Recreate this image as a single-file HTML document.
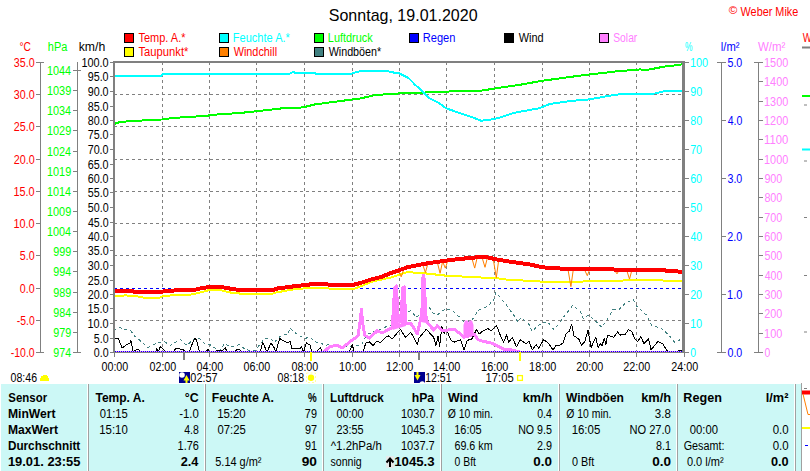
<!DOCTYPE html>
<html><head><meta charset="utf-8"><style>
html,body{margin:0;padding:0;background:#fff;width:810px;height:471px;overflow:hidden}
svg{display:block;font-family:"Liberation Sans", sans-serif}
</style></head><body>
<svg width="810" height="471" viewBox="0 0 810 471">
<text x="328.78" y="21" fill="#000" font-size="17" textLength="148.80" lengthAdjust="spacingAndGlyphs">Sonntag, 19.01.2020</text>
<text x="728.83" y="14" fill="#f00" font-size="10" textLength="8.57" lengthAdjust="spacingAndGlyphs">©</text>
<text x="740.55" y="16" fill="#f00" font-size="12" textLength="57.76" lengthAdjust="spacingAndGlyphs">Weber Mike</text>
<rect x="124.5" y="33.5" width="9" height="9" fill="#f00" stroke="#000" stroke-width="1"/>
<text x="138.48" y="42" fill="#f00" font-size="12" textLength="47.08" lengthAdjust="spacingAndGlyphs">Temp. A.*</text>
<rect x="219.5" y="33.5" width="9" height="9" fill="#0ff" stroke="#000" stroke-width="1"/>
<text x="232.82" y="42" fill="#0ff" font-size="12" textLength="57.05" lengthAdjust="spacingAndGlyphs">Feuchte A.*</text>
<rect x="314.5" y="33.5" width="9" height="9" fill="#0f0" stroke="#000" stroke-width="1"/>
<text x="327.83" y="42" fill="#0f0" font-size="12" textLength="44.85" lengthAdjust="spacingAndGlyphs">Luftdruck</text>
<rect x="409.5" y="33.5" width="9" height="9" fill="#00f" stroke="#000" stroke-width="1"/>
<text x="422.81" y="42" fill="#00f" font-size="12" textLength="32.63" lengthAdjust="spacingAndGlyphs">Regen</text>
<rect x="504.5" y="33.5" width="9" height="9" fill="#000" stroke="#000" stroke-width="1"/>
<text x="518.65" y="42" fill="#000" font-size="12" textLength="24.90" lengthAdjust="spacingAndGlyphs">Wind</text>
<rect x="599.5" y="33.5" width="9" height="9" fill="#ff80ff" stroke="#000" stroke-width="1"/>
<text x="613.24" y="42" fill="#ff80ff" font-size="12" textLength="24.07" lengthAdjust="spacingAndGlyphs">Solar</text>
<rect x="124.5" y="47.5" width="9" height="9" fill="#ff0" stroke="#000" stroke-width="1"/>
<text x="138.48" y="56" fill="#f00" font-size="12" textLength="49.97" lengthAdjust="spacingAndGlyphs">Taupunkt*</text>
<rect x="219.5" y="47.5" width="9" height="9" fill="#ff8000" stroke="#000" stroke-width="1"/>
<text x="233.65" y="56" fill="#f00" font-size="12" textLength="43.47" lengthAdjust="spacingAndGlyphs">Windchill</text>
<rect x="314.5" y="47.5" width="9" height="9" fill="#408080" stroke="#000" stroke-width="1"/>
<text x="328.65" y="56" fill="#000" font-size="12" textLength="52.58" lengthAdjust="spacingAndGlyphs">Windböen*</text>
<text x="19.39" y="51" fill="#f00" font-size="12" textLength="11.39" lengthAdjust="spacingAndGlyphs">°C</text>
<text x="47.83" y="51" fill="#0f0" font-size="12" textLength="19.56" lengthAdjust="spacingAndGlyphs">hPa</text>
<text x="78.70" y="51" fill="#000" font-size="12" textLength="26.52" lengthAdjust="spacingAndGlyphs">km/h</text>
<text x="684.91" y="51" fill="#0ff" font-size="12" textLength="7.48" lengthAdjust="spacingAndGlyphs">%</text>
<text x="720.77" y="51" fill="#00f" font-size="12" textLength="18.71" lengthAdjust="spacingAndGlyphs">l/m²</text>
<text x="758.04" y="51" fill="#ff80ff" font-size="12" textLength="27.36" lengthAdjust="spacingAndGlyphs">W/m²</text>
<text x="802.75" y="42" fill="#f00" font-size="12" textLength="9.08" lengthAdjust="spacingAndGlyphs">W</text>
<line x1="162.5" y1="62" x2="162.5" y2="352" stroke="#808080" stroke-width="1" stroke-dasharray="3 3"/>
<line x1="209.5" y1="62" x2="209.5" y2="352" stroke="#808080" stroke-width="1" stroke-dasharray="3 3"/>
<line x1="256.5" y1="62" x2="256.5" y2="352" stroke="#808080" stroke-width="1" stroke-dasharray="3 3"/>
<line x1="304.5" y1="62" x2="304.5" y2="352" stroke="#808080" stroke-width="1" stroke-dasharray="3 3"/>
<line x1="352.5" y1="62" x2="352.5" y2="352" stroke="#808080" stroke-width="1" stroke-dasharray="3 3"/>
<line x1="399.5" y1="62" x2="399.5" y2="352" stroke="#808080" stroke-width="1" stroke-dasharray="3 3"/>
<line x1="446.5" y1="62" x2="446.5" y2="352" stroke="#808080" stroke-width="1" stroke-dasharray="3 3"/>
<line x1="494.5" y1="62" x2="494.5" y2="352" stroke="#808080" stroke-width="1" stroke-dasharray="3 3"/>
<line x1="542.5" y1="62" x2="542.5" y2="352" stroke="#808080" stroke-width="1" stroke-dasharray="3 3"/>
<line x1="589.5" y1="62" x2="589.5" y2="352" stroke="#808080" stroke-width="1" stroke-dasharray="3 3"/>
<line x1="636.5" y1="62" x2="636.5" y2="352" stroke="#808080" stroke-width="1" stroke-dasharray="3 3"/>
<line x1="114" y1="94.5" x2="683" y2="94.5" stroke="#808080" stroke-width="1" stroke-dasharray="3 3"/>
<line x1="114" y1="126.5" x2="683" y2="126.5" stroke="#808080" stroke-width="1" stroke-dasharray="3 3"/>
<line x1="114" y1="159.5" x2="683" y2="159.5" stroke="#808080" stroke-width="1" stroke-dasharray="3 3"/>
<line x1="114" y1="191.5" x2="683" y2="191.5" stroke="#808080" stroke-width="1" stroke-dasharray="3 3"/>
<line x1="114" y1="223.5" x2="683" y2="223.5" stroke="#808080" stroke-width="1" stroke-dasharray="3 3"/>
<line x1="114" y1="255.5" x2="683" y2="255.5" stroke="#808080" stroke-width="1" stroke-dasharray="3 3"/>
<line x1="114" y1="320.5" x2="683" y2="320.5" stroke="#808080" stroke-width="1" stroke-dasharray="3 3"/>
<line x1="114" y1="288.5" x2="683" y2="288.5" stroke="#00f" stroke-width="1" stroke-dasharray="3 3"/>
<line x1="40.5" y1="62" x2="40.5" y2="353" stroke="#808080" stroke-width="1"/>
<line x1="36" y1="62.5" x2="44" y2="62.5" stroke="#808080" stroke-width="1"/>
<text x="13.87" y="67.0" fill="#f00" font-size="12" textLength="20.82" lengthAdjust="spacingAndGlyphs">35.0</text>
<line x1="36" y1="94.5" x2="41" y2="94.5" stroke="#808080" stroke-width="1"/>
<text x="13.87" y="99.0" fill="#f00" font-size="12" textLength="20.82" lengthAdjust="spacingAndGlyphs">30.0</text>
<line x1="36" y1="126.5" x2="41" y2="126.5" stroke="#808080" stroke-width="1"/>
<text x="13.76" y="131.0" fill="#f00" font-size="12" textLength="20.93" lengthAdjust="spacingAndGlyphs">25.0</text>
<line x1="36" y1="159.5" x2="41" y2="159.5" stroke="#808080" stroke-width="1"/>
<text x="13.76" y="164.0" fill="#f00" font-size="12" textLength="20.93" lengthAdjust="spacingAndGlyphs">20.0</text>
<line x1="36" y1="191.5" x2="41" y2="191.5" stroke="#808080" stroke-width="1"/>
<text x="13.48" y="196.0" fill="#f00" font-size="12" textLength="21.21" lengthAdjust="spacingAndGlyphs">15.0</text>
<line x1="36" y1="223.5" x2="41" y2="223.5" stroke="#808080" stroke-width="1"/>
<text x="13.48" y="228.0" fill="#f00" font-size="12" textLength="21.21" lengthAdjust="spacingAndGlyphs">10.0</text>
<line x1="36" y1="255.5" x2="41" y2="255.5" stroke="#808080" stroke-width="1"/>
<text x="19.87" y="260.0" fill="#f00" font-size="12" textLength="14.80" lengthAdjust="spacingAndGlyphs">5.0</text>
<line x1="36" y1="288.5" x2="41" y2="288.5" stroke="#808080" stroke-width="1"/>
<text x="19.87" y="293.0" fill="#f00" font-size="12" textLength="14.80" lengthAdjust="spacingAndGlyphs">0.0</text>
<line x1="36" y1="320.5" x2="41" y2="320.5" stroke="#808080" stroke-width="1"/>
<text x="16.83" y="325.0" fill="#f00" font-size="12" textLength="17.86" lengthAdjust="spacingAndGlyphs">-5.0</text>
<line x1="36" y1="352.5" x2="44" y2="352.5" stroke="#808080" stroke-width="1"/>
<text x="10.83" y="357.0" fill="#f00" font-size="12" textLength="23.83" lengthAdjust="spacingAndGlyphs">-10.0</text>
<line x1="77.5" y1="62" x2="77.5" y2="353" stroke="#808080" stroke-width="1"/>
<line x1="73" y1="352.5" x2="81" y2="352.5" stroke="#808080" stroke-width="1"/>
<text x="53.32" y="357.0" fill="#0f0" font-size="12" textLength="17.84" lengthAdjust="spacingAndGlyphs">974</text>
<line x1="73" y1="332.5" x2="78" y2="332.5" stroke="#808080" stroke-width="1"/>
<text x="53.31" y="337.0" fill="#0f0" font-size="12" textLength="18.01" lengthAdjust="spacingAndGlyphs">979</text>
<line x1="73" y1="312.5" x2="78" y2="312.5" stroke="#808080" stroke-width="1"/>
<text x="53.32" y="317.0" fill="#0f0" font-size="12" textLength="17.84" lengthAdjust="spacingAndGlyphs">984</text>
<line x1="73" y1="292.5" x2="78" y2="292.5" stroke="#808080" stroke-width="1"/>
<text x="53.31" y="297.0" fill="#0f0" font-size="12" textLength="18.01" lengthAdjust="spacingAndGlyphs">989</text>
<line x1="73" y1="271.5" x2="78" y2="271.5" stroke="#808080" stroke-width="1"/>
<text x="53.32" y="276.0" fill="#0f0" font-size="12" textLength="17.84" lengthAdjust="spacingAndGlyphs">994</text>
<line x1="73" y1="251.5" x2="78" y2="251.5" stroke="#808080" stroke-width="1"/>
<text x="53.31" y="256.0" fill="#0f0" font-size="12" textLength="18.01" lengthAdjust="spacingAndGlyphs">999</text>
<line x1="73" y1="231.5" x2="78" y2="231.5" stroke="#808080" stroke-width="1"/>
<text x="46.99" y="236.0" fill="#0f0" font-size="12" textLength="24.14" lengthAdjust="spacingAndGlyphs">1004</text>
<line x1="73" y1="211.5" x2="78" y2="211.5" stroke="#808080" stroke-width="1"/>
<text x="46.98" y="216.0" fill="#0f0" font-size="12" textLength="24.31" lengthAdjust="spacingAndGlyphs">1009</text>
<line x1="73" y1="191.5" x2="78" y2="191.5" stroke="#808080" stroke-width="1"/>
<text x="46.99" y="196.0" fill="#0f0" font-size="12" textLength="24.14" lengthAdjust="spacingAndGlyphs">1014</text>
<line x1="73" y1="171.5" x2="78" y2="171.5" stroke="#808080" stroke-width="1"/>
<text x="46.98" y="176.0" fill="#0f0" font-size="12" textLength="24.31" lengthAdjust="spacingAndGlyphs">1019</text>
<line x1="73" y1="151.5" x2="78" y2="151.5" stroke="#808080" stroke-width="1"/>
<text x="46.99" y="156.0" fill="#0f0" font-size="12" textLength="24.14" lengthAdjust="spacingAndGlyphs">1024</text>
<line x1="73" y1="130.5" x2="78" y2="130.5" stroke="#808080" stroke-width="1"/>
<text x="46.98" y="135.0" fill="#0f0" font-size="12" textLength="24.31" lengthAdjust="spacingAndGlyphs">1029</text>
<line x1="73" y1="110.5" x2="78" y2="110.5" stroke="#808080" stroke-width="1"/>
<text x="46.99" y="115.0" fill="#0f0" font-size="12" textLength="24.14" lengthAdjust="spacingAndGlyphs">1034</text>
<line x1="73" y1="90.5" x2="78" y2="90.5" stroke="#808080" stroke-width="1"/>
<text x="46.98" y="95.0" fill="#0f0" font-size="12" textLength="24.31" lengthAdjust="spacingAndGlyphs">1039</text>
<line x1="73" y1="70.5" x2="81" y2="70.5" stroke="#808080" stroke-width="1"/>
<text x="46.99" y="75.0" fill="#0f0" font-size="12" textLength="24.14" lengthAdjust="spacingAndGlyphs">1044</text>
<line x1="110" y1="352.5" x2="113" y2="352.5" stroke="#808080" stroke-width="1"/>
<text x="93.77" y="357.0" fill="#000" font-size="12" textLength="14.80" lengthAdjust="spacingAndGlyphs">0.0</text>
<line x1="110" y1="338.5" x2="113" y2="338.5" stroke="#808080" stroke-width="1"/>
<text x="93.77" y="343.0" fill="#000" font-size="12" textLength="14.80" lengthAdjust="spacingAndGlyphs">5.0</text>
<line x1="110" y1="323.5" x2="113" y2="323.5" stroke="#808080" stroke-width="1"/>
<text x="87.38" y="328.0" fill="#000" font-size="12" textLength="21.21" lengthAdjust="spacingAndGlyphs">10.0</text>
<line x1="110" y1="308.5" x2="113" y2="308.5" stroke="#808080" stroke-width="1"/>
<text x="87.38" y="313.0" fill="#000" font-size="12" textLength="21.21" lengthAdjust="spacingAndGlyphs">15.0</text>
<line x1="110" y1="294.5" x2="113" y2="294.5" stroke="#808080" stroke-width="1"/>
<text x="87.66" y="299.0" fill="#000" font-size="12" textLength="20.93" lengthAdjust="spacingAndGlyphs">20.0</text>
<line x1="110" y1="280.5" x2="113" y2="280.5" stroke="#808080" stroke-width="1"/>
<text x="87.66" y="285.0" fill="#000" font-size="12" textLength="20.93" lengthAdjust="spacingAndGlyphs">25.0</text>
<line x1="110" y1="265.5" x2="113" y2="265.5" stroke="#808080" stroke-width="1"/>
<text x="87.77" y="270.0" fill="#000" font-size="12" textLength="20.82" lengthAdjust="spacingAndGlyphs">30.0</text>
<line x1="110" y1="250.5" x2="113" y2="250.5" stroke="#808080" stroke-width="1"/>
<text x="87.77" y="255.0" fill="#000" font-size="12" textLength="20.82" lengthAdjust="spacingAndGlyphs">35.0</text>
<line x1="110" y1="236.5" x2="113" y2="236.5" stroke="#808080" stroke-width="1"/>
<text x="87.99" y="241.0" fill="#000" font-size="12" textLength="20.60" lengthAdjust="spacingAndGlyphs">40.0</text>
<line x1="110" y1="222.5" x2="113" y2="222.5" stroke="#808080" stroke-width="1"/>
<text x="87.99" y="227.0" fill="#000" font-size="12" textLength="20.60" lengthAdjust="spacingAndGlyphs">45.0</text>
<line x1="110" y1="207.5" x2="113" y2="207.5" stroke="#808080" stroke-width="1"/>
<text x="87.77" y="212.0" fill="#000" font-size="12" textLength="20.82" lengthAdjust="spacingAndGlyphs">50.0</text>
<line x1="110" y1="192.5" x2="113" y2="192.5" stroke="#808080" stroke-width="1"/>
<text x="87.77" y="197.0" fill="#000" font-size="12" textLength="20.82" lengthAdjust="spacingAndGlyphs">55.0</text>
<line x1="110" y1="178.5" x2="113" y2="178.5" stroke="#808080" stroke-width="1"/>
<text x="87.66" y="183.0" fill="#000" font-size="12" textLength="20.93" lengthAdjust="spacingAndGlyphs">60.0</text>
<line x1="110" y1="164.5" x2="113" y2="164.5" stroke="#808080" stroke-width="1"/>
<text x="87.66" y="169.0" fill="#000" font-size="12" textLength="20.93" lengthAdjust="spacingAndGlyphs">65.0</text>
<line x1="110" y1="149.5" x2="113" y2="149.5" stroke="#808080" stroke-width="1"/>
<text x="87.66" y="154.0" fill="#000" font-size="12" textLength="20.93" lengthAdjust="spacingAndGlyphs">70.0</text>
<line x1="110" y1="134.5" x2="113" y2="134.5" stroke="#808080" stroke-width="1"/>
<text x="87.66" y="139.0" fill="#000" font-size="12" textLength="20.93" lengthAdjust="spacingAndGlyphs">75.0</text>
<line x1="110" y1="120.5" x2="113" y2="120.5" stroke="#808080" stroke-width="1"/>
<text x="87.72" y="125.0" fill="#000" font-size="12" textLength="20.87" lengthAdjust="spacingAndGlyphs">80.0</text>
<line x1="110" y1="106.5" x2="113" y2="106.5" stroke="#808080" stroke-width="1"/>
<text x="87.72" y="111.0" fill="#000" font-size="12" textLength="20.87" lengthAdjust="spacingAndGlyphs">85.0</text>
<line x1="110" y1="91.5" x2="113" y2="91.5" stroke="#808080" stroke-width="1"/>
<text x="87.72" y="96.0" fill="#000" font-size="12" textLength="20.87" lengthAdjust="spacingAndGlyphs">90.0</text>
<line x1="110" y1="76.5" x2="113" y2="76.5" stroke="#808080" stroke-width="1"/>
<text x="87.72" y="81.0" fill="#000" font-size="12" textLength="20.87" lengthAdjust="spacingAndGlyphs">95.0</text>
<line x1="110" y1="62.5" x2="113" y2="62.5" stroke="#808080" stroke-width="1"/>
<text x="81.38" y="67.0" fill="#000" font-size="12" textLength="27.22" lengthAdjust="spacingAndGlyphs">100.0</text>
<line x1="685" y1="352.5" x2="689" y2="352.5" stroke="#808080" stroke-width="1"/>
<text x="690.28" y="357.0" fill="#0ff" font-size="12" textLength="5.79" lengthAdjust="spacingAndGlyphs">0</text>
<line x1="685" y1="323.5" x2="689" y2="323.5" stroke="#808080" stroke-width="1"/>
<text x="689.88" y="328.0" fill="#0ff" font-size="12" textLength="12.24" lengthAdjust="spacingAndGlyphs">10</text>
<line x1="685" y1="294.5" x2="689" y2="294.5" stroke="#808080" stroke-width="1"/>
<text x="690.16" y="299.0" fill="#0ff" font-size="12" textLength="11.94" lengthAdjust="spacingAndGlyphs">20</text>
<line x1="685" y1="265.5" x2="689" y2="265.5" stroke="#808080" stroke-width="1"/>
<text x="690.27" y="270.0" fill="#0ff" font-size="12" textLength="11.82" lengthAdjust="spacingAndGlyphs">30</text>
<line x1="685" y1="236.5" x2="689" y2="236.5" stroke="#808080" stroke-width="1"/>
<text x="690.49" y="241.0" fill="#0ff" font-size="12" textLength="11.60" lengthAdjust="spacingAndGlyphs">40</text>
<line x1="685" y1="207.5" x2="689" y2="207.5" stroke="#808080" stroke-width="1"/>
<text x="690.27" y="212.0" fill="#0ff" font-size="12" textLength="11.82" lengthAdjust="spacingAndGlyphs">50</text>
<line x1="685" y1="178.5" x2="689" y2="178.5" stroke="#808080" stroke-width="1"/>
<text x="690.16" y="183.0" fill="#0ff" font-size="12" textLength="11.94" lengthAdjust="spacingAndGlyphs">60</text>
<line x1="685" y1="149.5" x2="689" y2="149.5" stroke="#808080" stroke-width="1"/>
<text x="690.16" y="154.0" fill="#0ff" font-size="12" textLength="11.94" lengthAdjust="spacingAndGlyphs">70</text>
<line x1="685" y1="120.5" x2="689" y2="120.5" stroke="#808080" stroke-width="1"/>
<text x="690.22" y="125.0" fill="#0ff" font-size="12" textLength="11.88" lengthAdjust="spacingAndGlyphs">80</text>
<line x1="685" y1="91.5" x2="689" y2="91.5" stroke="#808080" stroke-width="1"/>
<text x="690.22" y="96.0" fill="#0ff" font-size="12" textLength="11.88" lengthAdjust="spacingAndGlyphs">90</text>
<line x1="685" y1="62.5" x2="689" y2="62.5" stroke="#808080" stroke-width="1"/>
<text x="689.88" y="67.0" fill="#0ff" font-size="12" textLength="18.24" lengthAdjust="spacingAndGlyphs">100</text>
<line x1="721.5" y1="62" x2="721.5" y2="353" stroke="#808080" stroke-width="1"/>
<line x1="717" y1="352.5" x2="726" y2="352.5" stroke="#808080" stroke-width="1"/>
<text x="727.47" y="357.0" fill="#00f" font-size="12" textLength="14.80" lengthAdjust="spacingAndGlyphs">0.0</text>
<line x1="721" y1="294.5" x2="726" y2="294.5" stroke="#808080" stroke-width="1"/>
<text x="727.08" y="299.0" fill="#00f" font-size="12" textLength="15.20" lengthAdjust="spacingAndGlyphs">1.0</text>
<line x1="721" y1="236.5" x2="726" y2="236.5" stroke="#808080" stroke-width="1"/>
<text x="727.36" y="241.0" fill="#00f" font-size="12" textLength="14.91" lengthAdjust="spacingAndGlyphs">2.0</text>
<line x1="721" y1="178.5" x2="726" y2="178.5" stroke="#808080" stroke-width="1"/>
<text x="727.47" y="183.0" fill="#00f" font-size="12" textLength="14.80" lengthAdjust="spacingAndGlyphs">3.0</text>
<line x1="721" y1="120.5" x2="726" y2="120.5" stroke="#808080" stroke-width="1"/>
<text x="727.69" y="125.0" fill="#00f" font-size="12" textLength="14.58" lengthAdjust="spacingAndGlyphs">4.0</text>
<line x1="717" y1="62.5" x2="726" y2="62.5" stroke="#808080" stroke-width="1"/>
<text x="727.47" y="67.0" fill="#00f" font-size="12" textLength="14.80" lengthAdjust="spacingAndGlyphs">5.0</text>
<line x1="758.5" y1="62" x2="758.5" y2="353" stroke="#808080" stroke-width="1"/>
<line x1="754" y1="352.5" x2="763" y2="352.5" stroke="#808080" stroke-width="1"/>
<text x="764.48" y="357.0" fill="#ff80ff" font-size="12" textLength="5.79" lengthAdjust="spacingAndGlyphs">0</text>
<line x1="758" y1="333.5" x2="763" y2="333.5" stroke="#808080" stroke-width="1"/>
<text x="764.08" y="338.0" fill="#ff80ff" font-size="12" textLength="18.24" lengthAdjust="spacingAndGlyphs">100</text>
<line x1="758" y1="313.5" x2="763" y2="313.5" stroke="#808080" stroke-width="1"/>
<text x="764.36" y="318.0" fill="#ff80ff" font-size="12" textLength="17.95" lengthAdjust="spacingAndGlyphs">200</text>
<line x1="758" y1="294.5" x2="763" y2="294.5" stroke="#808080" stroke-width="1"/>
<text x="764.47" y="299.0" fill="#ff80ff" font-size="12" textLength="17.84" lengthAdjust="spacingAndGlyphs">300</text>
<line x1="758" y1="275.5" x2="763" y2="275.5" stroke="#808080" stroke-width="1"/>
<text x="764.69" y="280.0" fill="#ff80ff" font-size="12" textLength="17.62" lengthAdjust="spacingAndGlyphs">400</text>
<line x1="758" y1="255.5" x2="763" y2="255.5" stroke="#808080" stroke-width="1"/>
<text x="764.47" y="260.0" fill="#ff80ff" font-size="12" textLength="17.84" lengthAdjust="spacingAndGlyphs">500</text>
<line x1="758" y1="236.5" x2="763" y2="236.5" stroke="#808080" stroke-width="1"/>
<text x="764.36" y="241.0" fill="#ff80ff" font-size="12" textLength="17.95" lengthAdjust="spacingAndGlyphs">600</text>
<line x1="758" y1="217.5" x2="763" y2="217.5" stroke="#808080" stroke-width="1"/>
<text x="764.36" y="222.0" fill="#ff80ff" font-size="12" textLength="17.95" lengthAdjust="spacingAndGlyphs">700</text>
<line x1="758" y1="197.5" x2="763" y2="197.5" stroke="#808080" stroke-width="1"/>
<text x="764.42" y="202.0" fill="#ff80ff" font-size="12" textLength="17.90" lengthAdjust="spacingAndGlyphs">800</text>
<line x1="758" y1="178.5" x2="763" y2="178.5" stroke="#808080" stroke-width="1"/>
<text x="764.42" y="183.0" fill="#ff80ff" font-size="12" textLength="17.90" lengthAdjust="spacingAndGlyphs">900</text>
<line x1="758" y1="159.5" x2="763" y2="159.5" stroke="#808080" stroke-width="1"/>
<text x="764.08" y="164.0" fill="#ff80ff" font-size="12" textLength="24.19" lengthAdjust="spacingAndGlyphs">1000</text>
<line x1="758" y1="139.5" x2="763" y2="139.5" stroke="#808080" stroke-width="1"/>
<text x="764.05" y="144.0" fill="#ff80ff" font-size="12" textLength="24.25" lengthAdjust="spacingAndGlyphs">1100</text>
<line x1="758" y1="120.5" x2="763" y2="120.5" stroke="#808080" stroke-width="1"/>
<text x="764.08" y="125.0" fill="#ff80ff" font-size="12" textLength="24.19" lengthAdjust="spacingAndGlyphs">1200</text>
<line x1="758" y1="101.5" x2="763" y2="101.5" stroke="#808080" stroke-width="1"/>
<text x="764.08" y="106.0" fill="#ff80ff" font-size="12" textLength="24.19" lengthAdjust="spacingAndGlyphs">1300</text>
<line x1="758" y1="81.5" x2="763" y2="81.5" stroke="#808080" stroke-width="1"/>
<text x="764.08" y="86.0" fill="#ff80ff" font-size="12" textLength="24.19" lengthAdjust="spacingAndGlyphs">1400</text>
<line x1="754" y1="62.5" x2="763" y2="62.5" stroke="#808080" stroke-width="1"/>
<text x="764.08" y="67.0" fill="#ff80ff" font-size="12" textLength="24.19" lengthAdjust="spacingAndGlyphs">1500</text>
<line x1="114.5" y1="352" x2="114.5" y2="357" stroke="#808080" stroke-width="1"/>
<text x="101.47" y="371" fill="#000" font-size="12" textLength="26.83" lengthAdjust="spacingAndGlyphs">00:00</text>
<line x1="162.5" y1="352" x2="162.5" y2="357" stroke="#808080" stroke-width="1"/>
<text x="149.47" y="371" fill="#000" font-size="12" textLength="26.83" lengthAdjust="spacingAndGlyphs">02:00</text>
<line x1="209.5" y1="352" x2="209.5" y2="357" stroke="#808080" stroke-width="1"/>
<text x="196.47" y="371" fill="#000" font-size="12" textLength="26.83" lengthAdjust="spacingAndGlyphs">04:00</text>
<line x1="256.5" y1="352" x2="256.5" y2="357" stroke="#808080" stroke-width="1"/>
<text x="243.47" y="371" fill="#000" font-size="12" textLength="26.83" lengthAdjust="spacingAndGlyphs">06:00</text>
<line x1="304.5" y1="352" x2="304.5" y2="357" stroke="#808080" stroke-width="1"/>
<text x="291.47" y="371" fill="#000" font-size="12" textLength="26.83" lengthAdjust="spacingAndGlyphs">08:00</text>
<line x1="352.5" y1="352" x2="352.5" y2="357" stroke="#808080" stroke-width="1"/>
<text x="339.08" y="371" fill="#000" font-size="12" textLength="27.22" lengthAdjust="spacingAndGlyphs">10:00</text>
<line x1="399.5" y1="352" x2="399.5" y2="357" stroke="#808080" stroke-width="1"/>
<text x="386.08" y="371" fill="#000" font-size="12" textLength="27.22" lengthAdjust="spacingAndGlyphs">12:00</text>
<line x1="446.5" y1="352" x2="446.5" y2="357" stroke="#808080" stroke-width="1"/>
<text x="433.08" y="371" fill="#000" font-size="12" textLength="27.22" lengthAdjust="spacingAndGlyphs">14:00</text>
<line x1="494.5" y1="352" x2="494.5" y2="357" stroke="#808080" stroke-width="1"/>
<text x="481.08" y="371" fill="#000" font-size="12" textLength="27.22" lengthAdjust="spacingAndGlyphs">16:00</text>
<line x1="542.5" y1="352" x2="542.5" y2="357" stroke="#808080" stroke-width="1"/>
<text x="529.08" y="371" fill="#000" font-size="12" textLength="27.22" lengthAdjust="spacingAndGlyphs">18:00</text>
<line x1="589.5" y1="352" x2="589.5" y2="357" stroke="#808080" stroke-width="1"/>
<text x="576.36" y="371" fill="#000" font-size="12" textLength="26.94" lengthAdjust="spacingAndGlyphs">20:00</text>
<line x1="636.5" y1="352" x2="636.5" y2="357" stroke="#808080" stroke-width="1"/>
<text x="623.36" y="371" fill="#000" font-size="12" textLength="26.94" lengthAdjust="spacingAndGlyphs">22:00</text>
<line x1="684.5" y1="352" x2="684.5" y2="357" stroke="#808080" stroke-width="1"/>
<text x="671.36" y="371" fill="#000" font-size="12" textLength="26.94" lengthAdjust="spacingAndGlyphs">24:00</text>
<polyline points="114.0,330.4 118.8,327.0 125.6,329.7 131.0,331.1 135.1,336.5 143.3,343.3 148.0,347.4 152.8,345.3 158.2,342.6 163.6,341.3 170.4,345.3 175.9,341.9 179.9,339.2 186.7,345.3 190.8,341.9 196.2,337.9 200.3,339.2 205.7,344.6 209.8,344.6 213.9,347.4 220.0,350.8 224.8,343.3 229.5,346.7 233.6,346.7 239.0,344.6 244.5,348.7 249.9,350.8 256.0,350.1 260.1,344.0 264.8,338.5 270.3,337.9 274.3,342.6 279.1,337.2 283.9,334.5 287.9,334.5 290.0,327.7 293.4,331.7 298.8,335.1 304.2,338.5 310.4,337.2 315.1,341.9 320.5,342.6 324.6,345.3 330.0,344.6 340.0,347.0 354.4,346.3 361.9,344.0 367.0,334.4 374.4,331.5 380.4,329.3 388.5,325.6 395.2,324.1 407.0,311.5 411.5,310.7 415.9,317.4 418.9,315.2 427.8,305.6 433.7,313.7 438.1,314.4 445.6,308.5 452.7,311.0 460.7,318.2 463.9,322.2 471.8,320.6 478.2,310.2 487.7,306.3 494.1,299.1 495.7,292.7 498.9,295.9 506.8,305.5 514.8,316.6 518.0,322.2 521.2,317.4 529.1,324.6 532.3,331.7 537.1,326.2 543.5,322.2 548.2,322.2 553.0,329.3 557.8,325.4 564.7,315.7 572.4,305.6 580.2,311.0 583.3,318.8 588.8,314.9 598.1,323.4 602.0,327.3 608.2,318.0 612.9,309.4 619.1,309.4 625.3,303.2 633.1,299.3 636.2,305.6 647.1,315.7 651.8,325.8 661.1,328.1 668.9,335.1 675.1,342.9 679.8,339.8 684.0,343.7" fill="none" stroke="#408080" stroke-width="1" stroke-linejoin="round" stroke-dasharray="3 3" shape-rendering="crispEdges"/>
<polyline points="114.0,339.2 118.1,337.9 122.2,348.0 125.6,345.3 129.7,343.3 131.0,340.6 133.1,352.0 135.8,350.1 138.5,349.4 140.5,352.0 155.5,352.0 156.8,348.7 158.2,352.0 160.2,346.7 163.6,349.4 166.3,352.0 173.1,352.0 175.9,348.3 182.7,349.4 186.0,352.0 189.4,352.0 192.2,344.0 195.2,337.9 196.9,341.3 199.6,352.0 205.7,352.0 207.8,349.4 209.8,352.0 215.3,352.0 216.6,350.0 222.7,350.1 225.4,347.4 226.8,352.0 234.9,352.0 237.0,349.4 239.7,349.4 241.7,352.0 260.1,352.0 262.8,342.3 266.9,352.0 271.0,343.3 273.7,346.7 275.7,352.0 279.8,338.5 285.2,341.9 287.9,342.6 290.0,341.3 292.0,348.7 300.2,348.7 301.5,346.7 303.6,352.0 306.3,342.6 307.6,344.0 309.7,344.0 311.7,352.0 316.5,352.0 320.5,347.4 321.9,352.0 349.3,352.0 352.2,344.8 354.4,352.0 363.3,352.0 365.6,343.3 369.3,341.9 373.0,345.6 376.7,341.1 380.4,342.6 385.6,337.4 388.5,335.9 392.2,338.9 400.4,329.3 405.6,337.4 410.7,332.2 417.4,344.1 418.9,338.1 426.3,329.3 433.7,337.4 435.9,345.6 438.1,335.9 439.6,346.3 441.9,326.3 444.1,333.7 446.3,329.3 451.1,340.5 454.3,342.1 460.7,339.7 463.9,350.0 467.1,340.5 471.8,338.9 476.6,329.3 479.0,334.1 483.0,330.9 487.7,328.5 490.9,330.9 496.5,325.4 500.5,335.7 503.7,342.1 506.5,334.9 508.8,342.1 512.4,337.3 516.4,346.8 520.4,339.7 525.9,343.7 529.1,341.3 532.3,350.0 536.3,344.5 538.7,348.4 543.5,339.7 548.2,342.9 553.0,350.0 556.2,345.3 560.0,345.2 563.1,342.9 566.2,333.5 569.3,331.2 571.7,324.2 574.0,335.9 578.7,339.0 581.8,345.2 584.9,341.3 588.0,330.4 591.1,347.5 595.8,337.4 598.1,347.5 600.4,343.7 602.0,346.0 604.3,338.2 605.9,345.2 607.4,335.1 613.7,337.4 617.5,332.0 619.9,335.1 625.3,334.3 628.4,329.7 631.5,331.2 635.4,339.8 637.8,341.3 640.9,336.7 644.0,343.7 648.6,339.0 651.0,349.9 658.0,341.3 662.6,343.7 666.5,349.9 668.9,352.0 677.0,352.0 679.8,349.9 683.0,352.0" fill="none" stroke="#000" stroke-width="1" stroke-linejoin="round" shape-rendering="crispEdges"/>
<polyline points="323.6,352.0 330.0,346.3 337.4,345.6 342.6,347.8 350.7,341.1 358.1,335.9 360.4,319.6 361.4,309.3 362.6,322.6 364.8,335.2 369.3,338.1 377.4,330.7 381.9,333.0 392.2,327.8 393.6,306.0 394.6,288.0 396.4,286.0 397.4,304.0 398.1,319.6 400.4,321.9 401.8,304.0 402.6,288.0 404.2,287.0 405.0,304.0 405.6,324.1 410.7,323.3 417.4,333.7 421.9,313.7 422.6,278.0 423.8,274.5 424.6,290.0 426.3,321.1 433.7,330.0 437.4,325.6 442.6,330.7 454.3,329.3 460.7,334.1 463.9,337.3 468.5,336.0 474.2,334.1 478.2,339.7 483.0,341.3 490.9,342.9 497.3,346.0 503.7,349.2 511.6,350.0 519.6,352.0" fill="none" stroke="#ff80ff" stroke-width="3" stroke-linejoin="round" shape-rendering="crispEdges"/>
<polygon points="392.5,330 393.8,305 394.6,288 396.4,286 397.2,302 398.2,322 401,324 401.9,304 402.7,289 404.3,287 405,304 405.8,326" fill="#ff80ff"/>
<polygon points="421,322 422.2,295 422.9,276 424.1,274.5 424.8,292 426.3,323" fill="#ff80ff"/>
<polygon points="463.5,338 463.5,325 465,320.5 468,320.5 468.7,323 469.3,320.5 472,320.5 473.5,325 473.5,336 468.5,337" fill="#ff80ff"/>
<polyline points="114.0,124.0 121.0,121.7 139.7,121.0 145.7,119.9 162.0,119.5 172.5,118.0 187.3,117.0 205.0,116.0 214.0,114.7 230.0,113.7 245.8,112.4 281.4,108.4 303.0,107.4 315.0,104.4 336.7,101.5 360.4,98.5 374.2,95.2 390.0,94.0 406.0,93.0 444.0,92.0 455.8,90.9 482.6,90.5 491.5,89.0 500.0,87.7 523.5,84.2 539.9,81.1 570.4,76.9 589.1,74.5 617.3,71.3 640.7,69.4 645.4,70.1 652.5,68.9 664.2,66.6 680.6,64.7 683.0,63.5" fill="none" stroke="#0f0" stroke-width="2" stroke-linejoin="round" shape-rendering="crispEdges"/>
<polyline points="114.0,76.0 161.0,76.0 163.0,74.1 166.0,73.8 289.3,73.8 292.0,72.5 293.6,71.9 295.2,72.8 314.0,72.8 316.0,73.8 351.5,73.8 356.4,71.9 362.4,70.9 386.0,70.9 394.0,72.6 399.3,73.4 408.3,77.8 415.7,85.3 423.9,92.7 429.0,97.9 438.0,102.4 446.2,108.3 458.8,112.8 472.2,117.2 481.1,120.7 491.5,119.5 500.0,117.5 514.0,112.8 539.9,108.1 549.3,104.1 570.4,101.0 589.1,99.4 612.6,95.2 622.0,94.0 654.8,93.5 664.2,91.2 683.0,90.5" fill="none" stroke="#0ff" stroke-width="2" stroke-linejoin="round" shape-rendering="crispEdges"/>
<polyline points="114.0,296.1 125.6,295.4 136.0,296.1 142.8,297.5 160.0,297.5 163.6,295.7 189.5,294.9 198.0,293.1 208.5,290.2 220.6,290.2 231.0,292.6 241.3,293.7 270.7,294.2 276.0,292.5 293.2,289.4 310.5,287.8 327.8,288.1 331.2,289.0 353.7,289.0 360.6,286.4 371.0,282.1 381.4,279.5 390.0,277.8 407.3,272.1 424.6,273.3 445.3,275.6 476.4,277.3 497.2,278.2 511.0,280.2 530.0,280.7 541.9,281.7 559.6,282.3 589.3,281.3 609.0,280.7 652.5,280.1 668.3,280.7 682.0,280.7" fill="none" stroke="#ff0" stroke-width="2" stroke-linejoin="round" shape-rendering="crispEdges"/>
<polyline points="398.2,269.5 401.2,276.8 403.7,269.5" fill="none" stroke="#ff8000" stroke-width="1" stroke-linejoin="round"/>
<polyline points="422.4,263.7 425.4,272.5 427.9,263.7" fill="none" stroke="#ff8000" stroke-width="1" stroke-linejoin="round"/>
<polyline points="437.1,261.5 440.1,273.3 442.6,261.5" fill="none" stroke="#ff8000" stroke-width="1" stroke-linejoin="round"/>
<polyline points="442.3,260.8 445.3,268.1 447.8,260.8" fill="none" stroke="#ff8000" stroke-width="1" stroke-linejoin="round"/>
<polyline points="471.7,257.6 474.7,268.1 477.2,257.6" fill="none" stroke="#ff8000" stroke-width="1" stroke-linejoin="round"/>
<polyline points="482.0,257.3 485.0,267.3 487.5,257.3" fill="none" stroke="#ff8000" stroke-width="1" stroke-linejoin="round"/>
<polyline points="493.3,259.3 496.3,277.7 498.8,259.3" fill="none" stroke="#ff8000" stroke-width="1" stroke-linejoin="round"/>
<polyline points="567.9,268.8 570.9,286.6 573.4,268.8" fill="none" stroke="#ff8000" stroke-width="1" stroke-linejoin="round"/>
<polyline points="584.3,269.2 587.3,275.7 589.8,269.2" fill="none" stroke="#ff8000" stroke-width="1" stroke-linejoin="round"/>
<polyline points="614.0,269.5 617.0,273.8 619.5,269.5" fill="none" stroke="#ff8000" stroke-width="1" stroke-linejoin="round"/>
<polyline points="626.5,269.6 629.5,279.1 632.0,269.6" fill="none" stroke="#ff8000" stroke-width="1" stroke-linejoin="round"/>
<polyline points="114.0,291.0 132.5,291.4 141.0,292.3 160.0,292.3 163.6,291.4 168.8,290.6 193.0,290.2 199.9,288.5 210.2,286.8 220.6,286.8 231.0,288.8 241.3,290.2 272.5,290.4 276.0,288.7 293.2,286.4 312.2,284.2 326.0,283.8 329.5,285.0 353.7,284.7 360.6,283.0 371.0,279.5 381.4,276.9 390.0,273.3 398.6,270.4 407.3,267.3 424.6,263.8 441.8,261.2 459.1,259.0 476.4,257.4 486.8,257.3 497.2,259.5 511.0,261.8 530.0,264.5 541.9,267.2 555.7,268.4 597.2,269.4 658.4,269.8 668.3,270.8 682.0,271.8" fill="none" stroke="#f00" stroke-width="4" stroke-linejoin="round" shape-rendering="crispEdges"/>
<line x1="115" y1="351.5" x2="682" y2="351.5" stroke="#ff80ff" stroke-width="1"/>
<line x1="115" y1="351.5" x2="682" y2="351.5" stroke="#00f" stroke-width="1" stroke-dasharray="1 1"/>
<rect x="113" y="61" width="572" height="2" fill="#808080"/>
<rect x="113" y="61" width="2" height="292" fill="#808080"/>
<rect x="682" y="61" width="3" height="292" fill="#808080"/>
<line x1="113" y1="352.5" x2="685" y2="352.5" stroke="#808080" stroke-width="1"/>
<rect x="310" y="352" width="2" height="9" fill="#ff0"/>
<rect x="519" y="352" width="2" height="9" fill="#ff0"/>
<rect x="183" y="352" width="2" height="8" fill="#808080"/>
<rect x="418" y="352" width="2" height="8" fill="#808080"/>
<text x="10.58" y="382" fill="#000" font-size="12" textLength="26.47" lengthAdjust="spacingAndGlyphs">08:46</text>
<path d="M43,375 H47 V376 H48 V378 H49 V381 H40 V378 H41 V376 H43 Z" fill="#ff0"/>
<rect x="179" y="372" width="11" height="11" fill="#000090"/>
<circle cx="182" cy="375" r="2.8" fill="#fff"/>
<path d="M186.5,375 L189.5,380.5 L183.5,380.5 Z" fill="#ff0"/>
<rect x="185.5" y="378" width="2" height="5" fill="#ff0"/>
<text x="190.37" y="382" fill="#000" font-size="12" textLength="27.21" lengthAdjust="spacingAndGlyphs">02:57</text>
<text x="277.58" y="382" fill="#000" font-size="12" textLength="26.58" lengthAdjust="spacingAndGlyphs">08:18</text>
<circle cx="311" cy="377.8" r="3.2" fill="#ff0"/>
<rect x="306.5" y="373" width="9" height="9.5" fill="none" stroke="#ffffa0" stroke-width="1" stroke-dasharray="2 2"/>
<rect x="414" y="372" width="11" height="11" fill="#000090"/>
<path d="M419.5,383 A3,3 0 0 1 425,383 Z" fill="#fff"/>
<rect x="416.5" y="372" width="2" height="5" fill="#ff0"/>
<path d="M414.5,375 L420.5,375 L417.5,380.5 Z" fill="#ff0"/>
<text x="425.21" y="382" fill="#000" font-size="12" textLength="26.29" lengthAdjust="spacingAndGlyphs">12:51</text>
<text x="485.56" y="382" fill="#000" font-size="12" textLength="28.12" lengthAdjust="spacingAndGlyphs">17:05</text>
<rect x="517.6" y="375.6" width="4.8" height="4.8" fill="none" stroke="#ff0" stroke-width="1.3"/>
<rect x="1" y="384" width="800" height="87" fill="#ccf8f6"/>
<rect x="87" y="384" width="1" height="87" fill="#fff"/>
<rect x="88" y="384" width="1" height="87" fill="#a0a0a0"/>
<rect x="204" y="384" width="1" height="87" fill="#fff"/>
<rect x="205" y="384" width="1" height="87" fill="#a0a0a0"/>
<rect x="322" y="384" width="1" height="87" fill="#fff"/>
<rect x="323" y="384" width="1" height="87" fill="#a0a0a0"/>
<rect x="440" y="384" width="1" height="87" fill="#fff"/>
<rect x="441" y="384" width="1" height="87" fill="#a0a0a0"/>
<rect x="558" y="384" width="1" height="87" fill="#fff"/>
<rect x="559" y="384" width="1" height="87" fill="#a0a0a0"/>
<rect x="676" y="384" width="1" height="87" fill="#fff"/>
<rect x="677" y="384" width="1" height="87" fill="#a0a0a0"/>
<rect x="794" y="384" width="1" height="87" fill="#fff"/>
<rect x="795" y="384" width="1" height="87" fill="#a0a0a0"/>
<rect x="801" y="383" width="1" height="88" fill="#a0a0a0"/>
<text x="8.36" y="402" fill="#000" font-size="12" font-weight="bold" textLength="38.72" lengthAdjust="spacingAndGlyphs">Sensor</text>
<text x="7.91" y="418" fill="#000" font-size="12" font-weight="bold" textLength="47.62" lengthAdjust="spacingAndGlyphs">MinWert</text>
<text x="7.91" y="434" fill="#000" font-size="12" font-weight="bold" textLength="50.16" lengthAdjust="spacingAndGlyphs">MaxWert</text>
<text x="7.94" y="450" fill="#000" font-size="12" font-weight="bold" textLength="72.30" lengthAdjust="spacingAndGlyphs">Durchschnitt</text>
<text x="7.93" y="466" fill="#000" font-size="12" font-weight="bold" textLength="72.51" lengthAdjust="spacingAndGlyphs">19.01. 23:55</text>
<text x="95.48" y="402" fill="#000" font-size="12" font-weight="bold" textLength="49.32" lengthAdjust="spacingAndGlyphs">Temp. A.</text>
<text x="184.84" y="402" fill="#000" font-size="12" font-weight="bold" textLength="13.89" lengthAdjust="spacingAndGlyphs">°C</text>
<text x="99.65" y="418" fill="#000" font-size="12" textLength="28.13" lengthAdjust="spacingAndGlyphs">01:15</text>
<text x="179.19" y="418" fill="#000" font-size="12" textLength="19.65" lengthAdjust="spacingAndGlyphs">-1.0</text>
<text x="99.25" y="434" fill="#000" font-size="12" textLength="28.48" lengthAdjust="spacingAndGlyphs">15:10</text>
<text x="184.19" y="434" fill="#000" font-size="12" textLength="14.63" lengthAdjust="spacingAndGlyphs">4.8</text>
<text x="177.58" y="450" fill="#000" font-size="12" textLength="21.27" lengthAdjust="spacingAndGlyphs">1.76</text>
<text x="180.75" y="466" fill="#000" font-size="12" font-weight="bold" textLength="17.71" lengthAdjust="spacingAndGlyphs">2.4</text>
<text x="211.80" y="402" fill="#000" font-size="12" font-weight="bold" textLength="62.15" lengthAdjust="spacingAndGlyphs">Feuchte A.</text>
<text x="307.96" y="402" fill="#000" font-size="12" font-weight="bold" textLength="8.68" lengthAdjust="spacingAndGlyphs">%</text>
<text x="217.14" y="418" fill="#000" font-size="12" textLength="28.59" lengthAdjust="spacingAndGlyphs">15:20</text>
<text x="304.86" y="418" fill="#000" font-size="12" textLength="12.05" lengthAdjust="spacingAndGlyphs">79</text>
<text x="217.55" y="434" fill="#000" font-size="12" textLength="28.23" lengthAdjust="spacingAndGlyphs">07:25</text>
<text x="304.91" y="434" fill="#000" font-size="12" textLength="12.05" lengthAdjust="spacingAndGlyphs">97</text>
<text x="304.91" y="450" fill="#000" font-size="12" textLength="12.00" lengthAdjust="spacingAndGlyphs">91</text>
<text x="215.26" y="466" fill="#000" font-size="12" textLength="46.25" lengthAdjust="spacingAndGlyphs">5.14 g/m²</text>
<text x="301.72" y="466" fill="#000" font-size="12" font-weight="bold" textLength="15.26" lengthAdjust="spacingAndGlyphs">90</text>
<text x="330.04" y="402" fill="#000" font-size="12" font-weight="bold" textLength="53.77" lengthAdjust="spacingAndGlyphs">Luftdruck</text>
<text x="411.75" y="402" fill="#000" font-size="12" font-weight="bold" textLength="22.32" lengthAdjust="spacingAndGlyphs">hPa</text>
<text x="336.57" y="418" fill="#000" font-size="12" textLength="27.04" lengthAdjust="spacingAndGlyphs">00:00</text>
<text x="400.97" y="418" fill="#000" font-size="12" textLength="33.77" lengthAdjust="spacingAndGlyphs">1030.7</text>
<text x="336.46" y="434" fill="#000" font-size="12" textLength="27.21" lengthAdjust="spacingAndGlyphs">23:55</text>
<text x="400.97" y="434" fill="#000" font-size="12" textLength="33.65" lengthAdjust="spacingAndGlyphs">1045.3</text>
<text x="330.74" y="450" fill="#000" font-size="12" textLength="51.13" lengthAdjust="spacingAndGlyphs">^1.2hPa/h</text>
<text x="400.97" y="450" fill="#000" font-size="12" textLength="33.77" lengthAdjust="spacingAndGlyphs">1037.7</text>
<text x="330.48" y="466" fill="#000" font-size="12" textLength="31.23" lengthAdjust="spacingAndGlyphs">sonnig</text>
<text x="394.21" y="466" fill="#000" font-size="12" font-weight="bold" textLength="40.44" lengthAdjust="spacingAndGlyphs">1045.3</text>
<rect x="386" y="456" width="8" height="12" fill="#e6eaea"/>
<path d="M390,459 L390,467 M386.5,462.5 L390,458.5 L393.5,462.5" stroke="#000" stroke-width="2" fill="none"/>
<text x="448.00" y="402" fill="#000" font-size="12" font-weight="bold" textLength="30.20" lengthAdjust="spacingAndGlyphs">Wind</text>
<text x="522.82" y="402" fill="#000" font-size="12" font-weight="bold" textLength="29.43" lengthAdjust="spacingAndGlyphs">km/h</text>
<text x="447.63" y="418" fill="#000" font-size="12" textLength="45.26" lengthAdjust="spacingAndGlyphs">Ø 10 min.</text>
<text x="537.18" y="418" fill="#000" font-size="12" textLength="14.64" lengthAdjust="spacingAndGlyphs">0.4</text>
<text x="454.18" y="434" fill="#000" font-size="12" textLength="27.49" lengthAdjust="spacingAndGlyphs">16:05</text>
<text x="518.15" y="434" fill="#000" font-size="12" textLength="33.81" lengthAdjust="spacingAndGlyphs">NO 9.5</text>
<text x="454.46" y="450" fill="#000" font-size="12" textLength="38.10" lengthAdjust="spacingAndGlyphs">69.6 km</text>
<text x="536.96" y="450" fill="#000" font-size="12" textLength="15.03" lengthAdjust="spacingAndGlyphs">2.9</text>
<text x="454.58" y="466" fill="#000" font-size="12" textLength="21.38" lengthAdjust="spacingAndGlyphs">0 Bft</text>
<text x="533.36" y="466" fill="#000" font-size="12" font-weight="bold" textLength="18.68" lengthAdjust="spacingAndGlyphs">0.0</text>
<text x="566.00" y="402" fill="#000" font-size="12" font-weight="bold" textLength="57.90" lengthAdjust="spacingAndGlyphs">Windböen</text>
<text x="641.20" y="402" fill="#000" font-size="12" font-weight="bold" textLength="29.96" lengthAdjust="spacingAndGlyphs">km/h</text>
<text x="566.34" y="418" fill="#000" font-size="12" textLength="45.05" lengthAdjust="spacingAndGlyphs">Ø 10 min.</text>
<text x="654.84" y="418" fill="#000" font-size="12" textLength="16.02" lengthAdjust="spacingAndGlyphs">3.8</text>
<text x="571.64" y="434" fill="#000" font-size="12" textLength="28.64" lengthAdjust="spacingAndGlyphs">16:05</text>
<text x="629.41" y="434" fill="#000" font-size="12" textLength="41.37" lengthAdjust="spacingAndGlyphs">NO 27.0</text>
<text x="655.92" y="450" fill="#000" font-size="12" textLength="14.97" lengthAdjust="spacingAndGlyphs">8.1</text>
<text x="572.07" y="466" fill="#000" font-size="12" textLength="22.31" lengthAdjust="spacingAndGlyphs">0 Bft</text>
<text x="652.16" y="466" fill="#000" font-size="12" font-weight="bold" textLength="18.78" lengthAdjust="spacingAndGlyphs">0.0</text>
<text x="683.38" y="402" fill="#000" font-size="12" font-weight="bold" textLength="38.49" lengthAdjust="spacingAndGlyphs">Regen</text>
<text x="765.81" y="402" fill="#000" font-size="12" font-weight="bold" textLength="22.62" lengthAdjust="spacingAndGlyphs">l/m²</text>
<text x="689.85" y="434" fill="#000" font-size="12" textLength="28.17" lengthAdjust="spacingAndGlyphs">00:00</text>
<text x="772.64" y="434" fill="#000" font-size="12" textLength="15.96" lengthAdjust="spacingAndGlyphs">0.0</text>
<text x="683.66" y="450" fill="#000" font-size="12" textLength="40.75" lengthAdjust="spacingAndGlyphs">Gesamt:</text>
<text x="772.64" y="450" fill="#000" font-size="12" textLength="15.96" lengthAdjust="spacingAndGlyphs">0.0</text>
<text x="686.96" y="466" fill="#000" font-size="12" textLength="36.65" lengthAdjust="spacingAndGlyphs">0.0 l/m²</text>
<text x="770.99" y="466" fill="#000" font-size="12" font-weight="bold" textLength="17.72" lengthAdjust="spacingAndGlyphs">0.0</text>
<rect x="802" y="46.5" width="8" height="2" fill="#808080"/>
<rect x="802" y="95" width="8" height="2" fill="#0f0"/>
<rect x="802" y="148.5" width="8" height="2" fill="#0ff"/>
<rect x="804" y="104.5" width="3" height="1" fill="#808080"/>
<rect x="804" y="160.5" width="3" height="1" fill="#808080"/>
<rect x="804" y="217" width="3" height="1" fill="#808080"/>
<rect x="804" y="275" width="3" height="1" fill="#808080"/>
<rect x="804" y="331.5" width="3" height="1" fill="#808080"/>
<rect x="804" y="388" width="3" height="1" fill="#808080"/>
<rect x="802" y="390.5" width="8" height="4" fill="#f00"/>
<polyline points="803.0,394.0 808.0,414.5 810.0,414.5" fill="none" stroke="#ff8000" stroke-width="1" stroke-linejoin="round"/>
<rect x="802" y="427" width="8" height="2" fill="#ff0"/>
<rect x="805" y="445" width="3" height="1" fill="#00f"/>
</svg>
</body></html>
